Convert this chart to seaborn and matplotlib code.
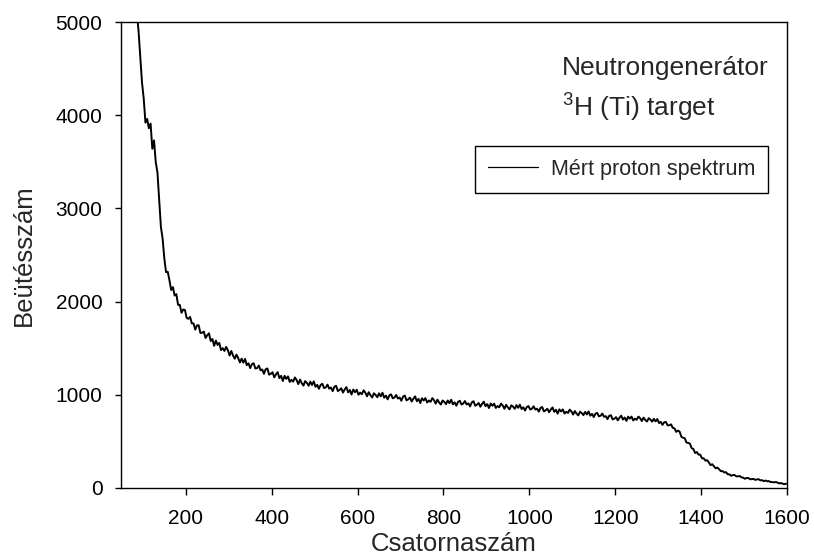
import numpy as np
import pandas as pd
import matplotlib
matplotlib.use("Agg")
import matplotlib.pyplot as plt
import seaborn as sns

# Channel numbers (every 4th channel)
channels = list(range(50, 1599, 4))

# Counts (values above 5000 are off the chart)
counts = [
    8400, 7900, 7400, 6950, 6550, 6200, 5880, 5580, 5300, 5100,
    4900, 4620, 4350, 4180, 3920, 3960, 3860, 3910, 3640, 3730,
    3496, 3384, 3098, 2802, 2676, 2462, 2316, 2320, 2226, 2124,
    2155, 2065, 2080, 1965, 1965, 1880, 1915, 1910, 1825, 1815,
    1836, 1766, 1765, 1699, 1745, 1746, 1663, 1666, 1678, 1609,
    1639, 1660, 1577, 1599, 1525, 1582, 1535, 1557, 1480, 1500,
    1471, 1514, 1478, 1421, 1470, 1422, 1387, 1431, 1394, 1347,
    1388, 1344, 1385, 1318, 1338, 1286, 1330, 1338, 1282, 1286,
    1314, 1263, 1272, 1225, 1274, 1283, 1216, 1225, 1242, 1187,
    1220, 1243, 1179, 1203, 1148, 1203, 1171, 1197, 1138, 1160,
    1141, 1186, 1159, 1114, 1163, 1125, 1098, 1147, 1128, 1097,
    1141, 1105, 1144, 1086, 1107, 1064, 1106, 1118, 1072, 1079,
    1109, 1066, 1078, 1039, 1086, 1097, 1040, 1052, 1070, 1024,
    1057, 1082, 1026, 1052, 1003, 1056, 1028, 1054, 1001, 1023,
    1006, 1048, 1024, 984, 1028, 995, 971, 1016, 999, 974,
    1016, 983, 1022, 969, 991, 951, 994, 1005, 962, 971,
    998, 960, 971, 936, 981, 992, 940, 951, 969, 928,
    959, 983, 931, 956, 911, 963, 939, 964, 917, 939,
    924, 964, 943, 905, 948, 917, 896, 939, 924, 900,
    939, 910, 947, 898, 919, 883, 924, 936, 896, 905,
    933, 896, 908, 875, 919, 931, 882, 894, 912, 872,
    903, 926, 877, 900, 858, 906, 882, 905, 859, 879,
    866, 905, 885, 850, 893, 864, 844, 887, 873, 850,
    889, 860, 894, 847, 866, 831, 868, 879, 842, 850,
    876, 841, 851, 819, 859, 869, 822, 833, 850, 813,
    842, 864, 817, 839, 798, 844, 821, 843, 799, 818,
    805, 841, 822, 788, 826, 798, 779, 818, 804, 782,
    817, 789, 822, 776, 795, 761, 797, 806, 769, 776,
    798, 764, 771, 739, 774, 781, 735, 744, 760, 726,
    754, 776, 734, 756, 720, 765, 744, 766, 725, 744,
    732, 766, 749, 718, 755, 730, 713, 749, 735, 712,
    742, 715, 740, 697, 710, 677, 705, 708, 672, 673,
    683, 645, 640, 602, 616, 605, 550, 539, 534, 487,
    484, 476, 427, 419, 375, 386, 358, 358, 319, 318,
    294, 298, 274, 245, 255, 232, 211, 219, 201, 180,
    182, 166, 170, 147, 147, 131, 139, 139, 125, 125,
    128, 114, 111, 99, 107, 108, 94, 95, 98, 87,
    92, 94, 82, 84, 73, 80, 72, 74, 63, 64,
    60, 64, 58, 49, 53, 46, 41, 46,
]

x_ticks = [200, 400, 600, 800, 1000, 1200, 1400, 1600]
y_ticks = [0, 1000, 2000, 3000, 4000, 5000]

data = pd.DataFrame({"channel": channels, "counts": counts})

sns.set_theme(style="ticks")
plt.rcParams["font.family"] = ["Liberation Sans", "DejaVu Sans"]
plt.rcParams["mathtext.fontset"] = "custom"
plt.rcParams["mathtext.rm"] = "Liberation Sans"

fig = plt.figure(figsize=(8.14, 5.57), dpi=100)
ax = fig.add_axes([0.1486, 0.1239, 0.8182, 0.8366])

sns.lineplot(data=data, x="channel", y="counts", ax=ax, color="black",
             linewidth=1.4, errorbar=None, sort=False,
             label="Mért proton spektrum")

ax.set_xlim(49, 1600)
ax.set_ylim(0, 5000)
ax.set_xticks(x_ticks)
ax.set_yticks(y_ticks)

for side in ["top", "bottom", "left", "right"]:
    ax.spines[side].set_visible(True)
    ax.spines[side].set_color("black")
    ax.spines[side].set_linewidth(1.0)

ax.tick_params(axis="x", direction="out", length=5, width=1, pad=10,
               labelsize=15, colors="black")
ax.tick_params(axis="y", direction="out", length=4.3, width=1, pad=9,
               labelsize=15, colors="black")

ax.set_xlabel("Csatornaszám", fontsize=18.5, labelpad=3)
ax.set_ylabel("Beütésszám", fontsize=18.5, labelpad=14)

ax.text(0.662, 0.886, "Neutrongenerátor", transform=ax.transAxes,
        fontsize=19, va="baseline", ha="left")
ax.text(0.662, 0.796, r"$\mathregular{^3}$H (Ti) target", transform=ax.transAxes,
        fontsize=19, va="baseline", ha="left")

leg = ax.legend(loc="upper right", bbox_to_anchor=(0.9715, 0.734),
                fontsize=15.5, frameon=True, fancybox=False, shadow=False,
                borderpad=0.6, handlelength=2.3, handletextpad=0.6,
                borderaxespad=0)
leg.get_frame().set_edgecolor("black")
leg.get_frame().set_linewidth(1.0)
leg.get_frame().set_alpha(1)
# legend handle stays a thin line like in the original
for line in leg.get_lines():
    line.set_linewidth(0.9)

fig.savefig("out.png", dpi=100)
